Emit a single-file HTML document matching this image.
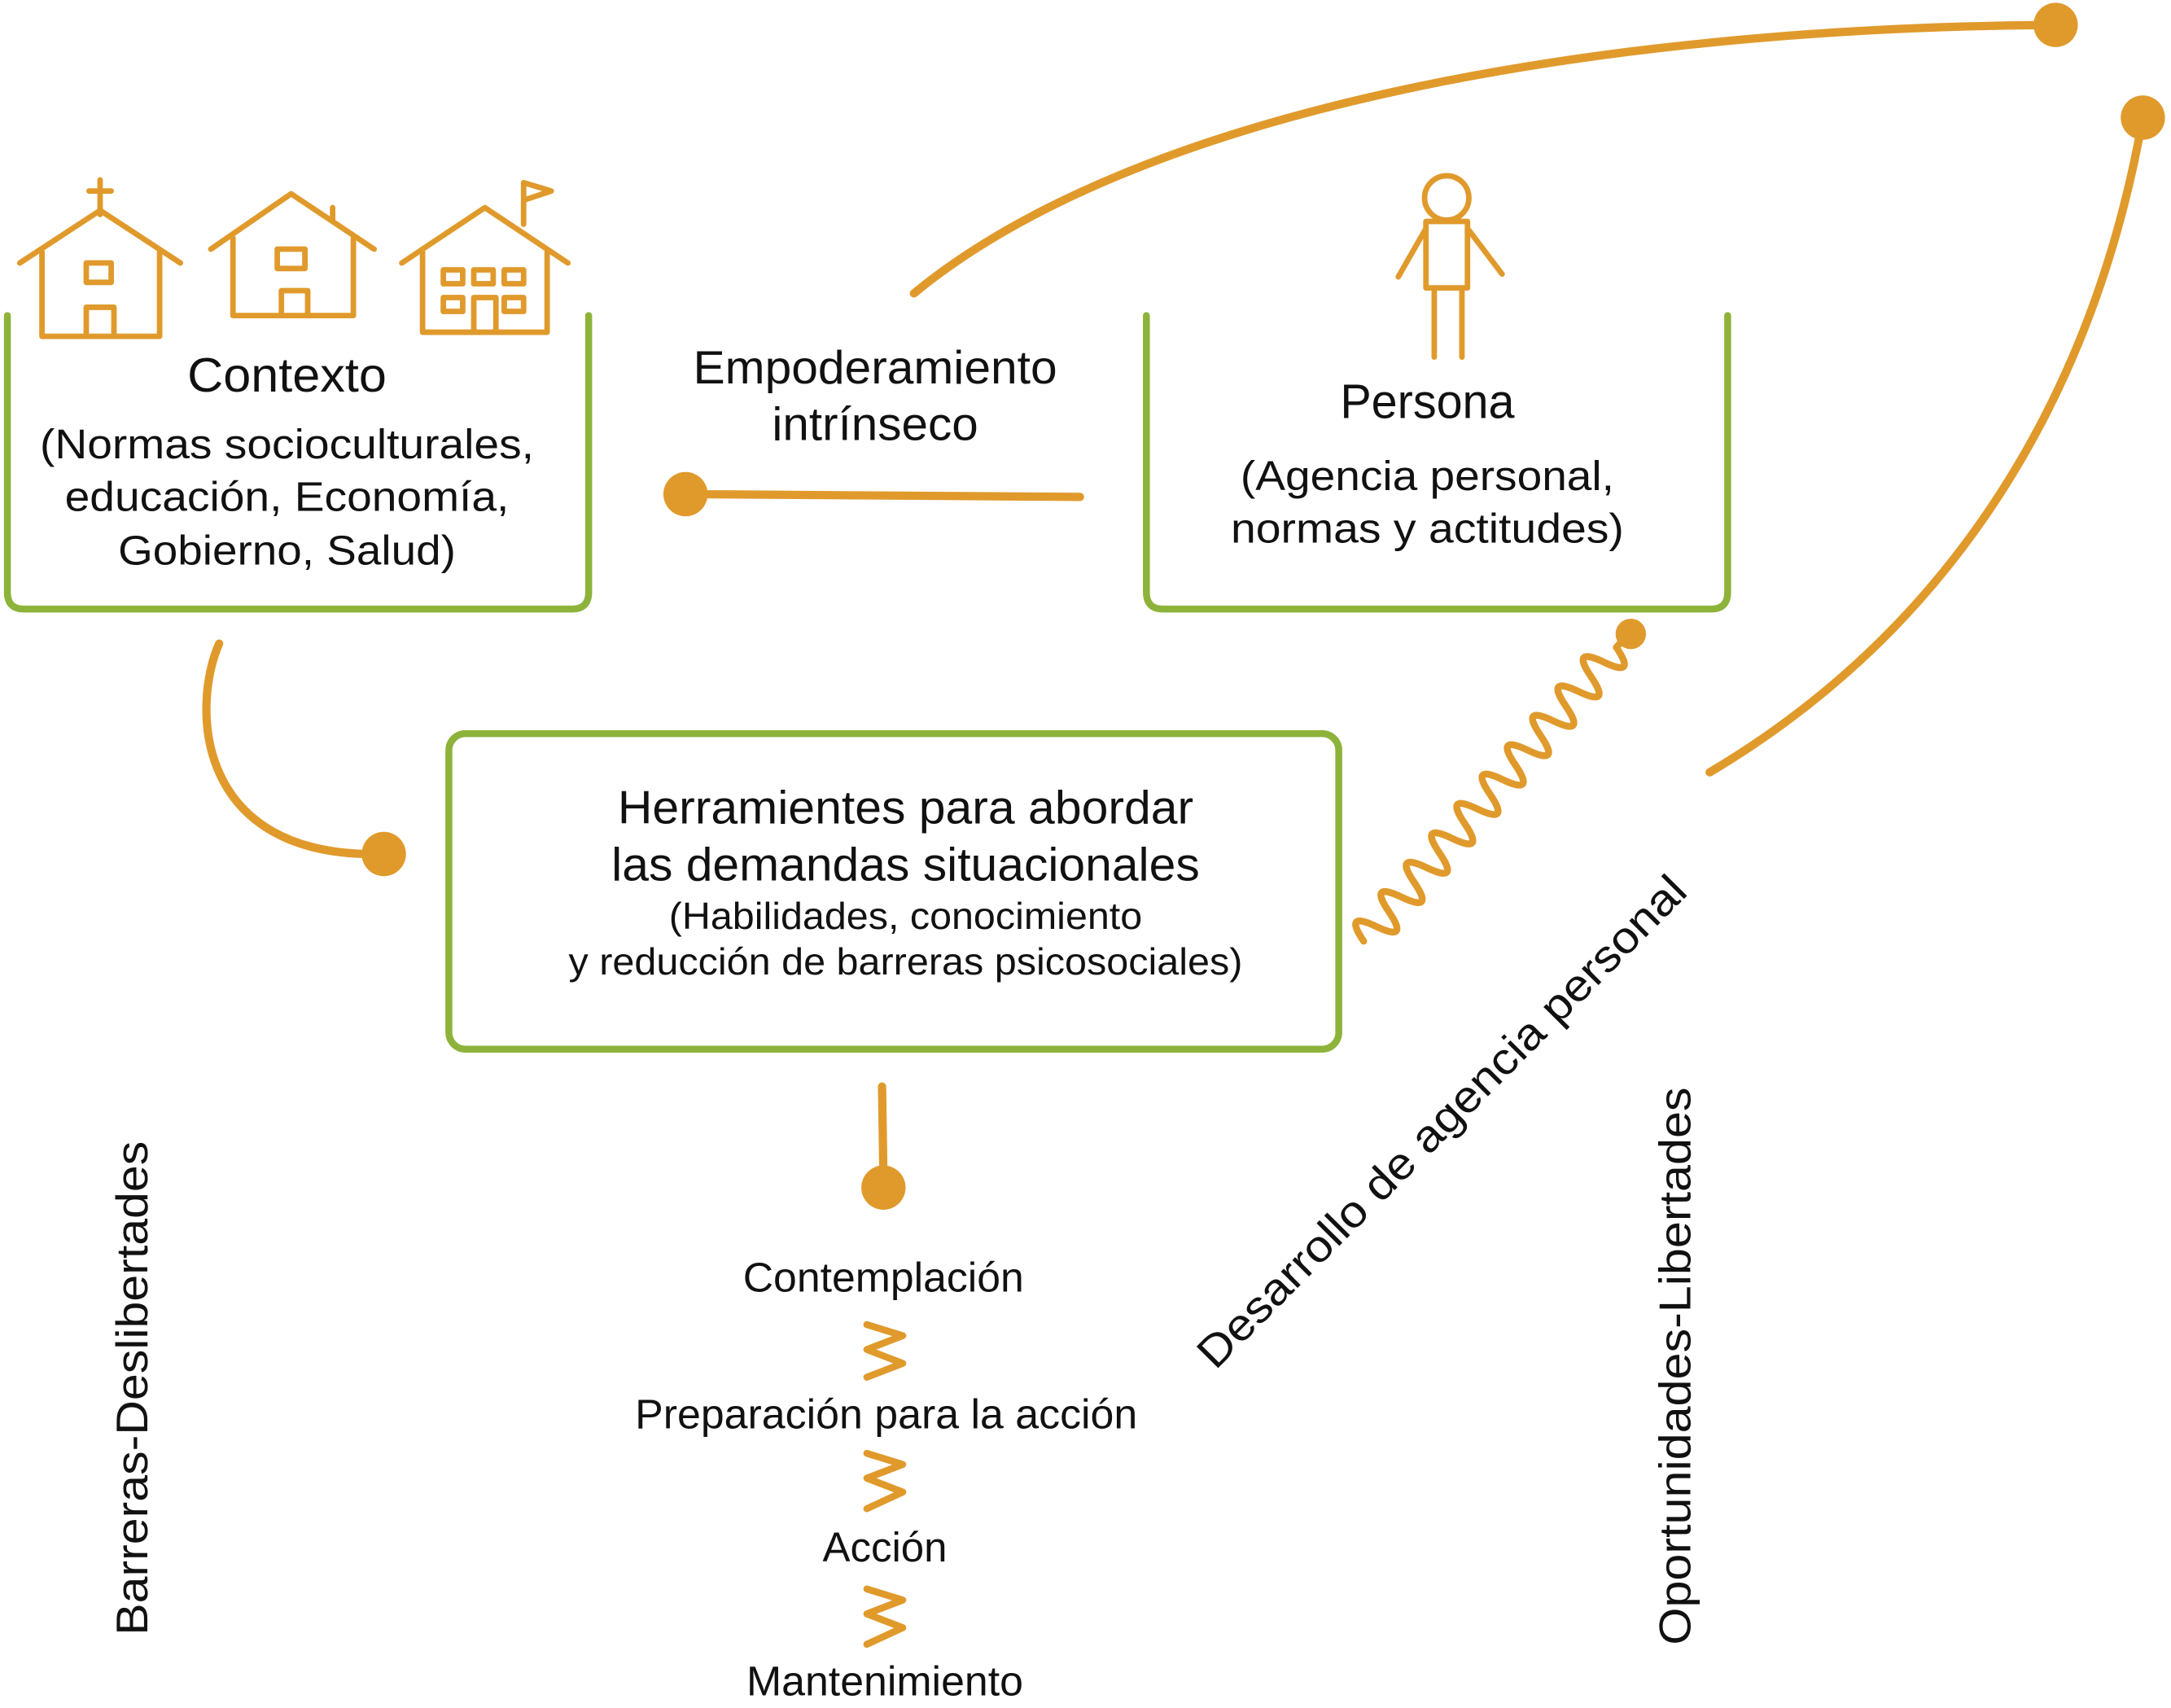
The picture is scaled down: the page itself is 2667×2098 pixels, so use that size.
<!DOCTYPE html>
<html><head><meta charset="utf-8"><style>
html,body{margin:0;padding:0;background:#fff;}
svg{display:block;}
text{font-family:"Liberation Sans",sans-serif;fill:#111;}
</style></head><body>
<svg width="2667" height="2098" viewBox="0 0 1568 1234" xmlns="http://www.w3.org/2000/svg">
<g fill="none" stroke="#8db33a" stroke-width="5" stroke-linecap="round" stroke-linejoin="round">
<path d="M5,228 L5,428 Q5,440 17,440 L413,440 Q425,440 425,428 L425,228"/>
<path d="M828,228 L828,428 Q828,440 840,440 L1236,440 Q1248,440 1248,428 L1248,228"/>
<rect x="324" y="530" width="643" height="228" rx="12"/>
</g>
<g fill="none" stroke="#e09a2c" stroke-linecap="round" stroke-linejoin="round">
<g stroke-width="4">
<path d="M14,190 L72,152 L130,190"/><path d="M30,182 L30,243 L115,243 L115,182"/><path d="M72,130 L72,155 M64,138 L80,138"/>
<rect x="62" y="190" width="18" height="14"/><path d="M62,243 L62,222 L82,222 L82,243"/>
<path d="M152,180 L210,140 L270,180"/><path d="M168,172 L168,228 L255,228 L255,172"/><path d="M240,150 L240,160"/>
<rect x="200" y="180" width="20" height="14"/><path d="M203,228 L203,210 L222,210 L222,228"/>
<path d="M290,190 L350,150 L410,190"/><path d="M305,182 L305,240 L395,240 L395,182"/><path d="M378,162 L378,132 L398,138 L380,144"/>
<rect x="320" y="195" width="14" height="10"/><rect x="342" y="195" width="14" height="10"/><rect x="364" y="195" width="14" height="10"/>
<rect x="320" y="215" width="14" height="10"/><rect x="364" y="215" width="14" height="10"/><path d="M342,240 L342,215 L358,215 L358,240"/>
<circle cx="1045" cy="143" r="16"/>
<path d="M1030,160 L1060,160 L1060,208 L1030,208 Z M1030,165 L1010,200 M1060,165 L1085,198 M1036,208 L1036,258 M1056,208 L1056,258"/>
</g>
<g stroke-width="6">
<path d="M495,357 L780,359"/>
<path d="M660,212 C820,80 1150,20 1485,18"/>
<path d="M1235,558 C1400,460 1510,300 1548,85"/>
<path d="M158,465 C138,510 140,620 275,617"/>
<path d="M637,785 L638,850"/>
</g>
<g stroke-width="5">
<g transform="translate(985,680) rotate(-49.3)">
<path d="M0,0 q7,-26 14,0 t14,0 t14,0 t14,0 t14,0 t14,0 t14,0 t14,0 t14,0 t14,0 t14,0 t14,0 t14,0 t14,0 t14,0 t14,0 t14,0 t14,0 t14,0 t14,0 l6,0"/>
</g>
<path d="M626,957 L652,965 L626,975 L652,985 L626,995"/>
<path d="M626,1050 L652,1058 L626,1068 L652,1078 L626,1090"/>
<path d="M626,1148 L652,1156 L626,1166 L652,1176 L626,1188"/>
</g>
</g>
<g fill="#e09a2c">
<circle cx="495" cy="357" r="16"/><circle cx="1485" cy="18" r="16"/><circle cx="1548" cy="85" r="16"/>
<circle cx="277" cy="617" r="16"/><circle cx="638" cy="858" r="16"/><circle cx="1178" cy="458" r="11"/>
</g>
<g text-anchor="middle" lengthAdjust="spacingAndGlyphs">
<text x="207" y="283" font-size="35" textLength="144" lengthAdjust="spacingAndGlyphs">Contexto</text>
<text x="207" y="331" font-size="30" textLength="357" lengthAdjust="spacingAndGlyphs">(Normas socioculturales,</text>
<text x="207" y="369" font-size="30" textLength="321" lengthAdjust="spacingAndGlyphs">educación, Economía,</text>
<text x="207" y="408" font-size="30" textLength="244" lengthAdjust="spacingAndGlyphs">Gobierno, Salud)</text>
<text x="632" y="277" font-size="34" textLength="263" lengthAdjust="spacingAndGlyphs">Empoderamiento</text>
<text x="632" y="318" font-size="34" textLength="149" lengthAdjust="spacingAndGlyphs">intrínseco</text>
<text x="1031" y="302" font-size="35" textLength="126" lengthAdjust="spacingAndGlyphs">Persona</text>
<text x="1031" y="354" font-size="30" textLength="270" lengthAdjust="spacingAndGlyphs">(Agencia personal,</text>
<text x="1031" y="392" font-size="30" textLength="284" lengthAdjust="spacingAndGlyphs">normas y actitudes)</text>
<text x="654" y="595" font-size="34" textLength="416" lengthAdjust="spacingAndGlyphs">Herramientes para abordar</text>
<text x="654" y="636" font-size="34" textLength="425" lengthAdjust="spacingAndGlyphs">las demandas situacionales</text>
<text x="654" y="671" font-size="27" textLength="342" lengthAdjust="spacingAndGlyphs">(Habilidades, conocimiento</text>
<text x="654" y="704" font-size="27" textLength="487" lengthAdjust="spacingAndGlyphs">y reducción de barreras psicosociales)</text>
<text x="638" y="933" font-size="30" textLength="203" lengthAdjust="spacingAndGlyphs">Contemplación</text>
<text x="640" y="1032" font-size="30" textLength="363" lengthAdjust="spacingAndGlyphs">Preparación para la acción</text>
<text x="639" y="1128" font-size="30" textLength="90" lengthAdjust="spacingAndGlyphs">Acción</text>
<text x="639" y="1225" font-size="30" textLength="200" lengthAdjust="spacingAndGlyphs">Mantenimiento</text>
<text transform="translate(106,1003) rotate(-90)" font-size="32" textLength="357" lengthAdjust="spacingAndGlyphs">Barreras-Deslibertades</text>
<text transform="translate(1221,987) rotate(-90)" font-size="32" textLength="403" lengthAdjust="spacingAndGlyphs">Oportunidades-Libertades</text>
<text transform="translate(1049,818) rotate(-45.2)" font-size="32" textLength="486" lengthAdjust="spacingAndGlyphs">Desarrollo de agencia personal</text>
</g>
</svg>
</body></html>
